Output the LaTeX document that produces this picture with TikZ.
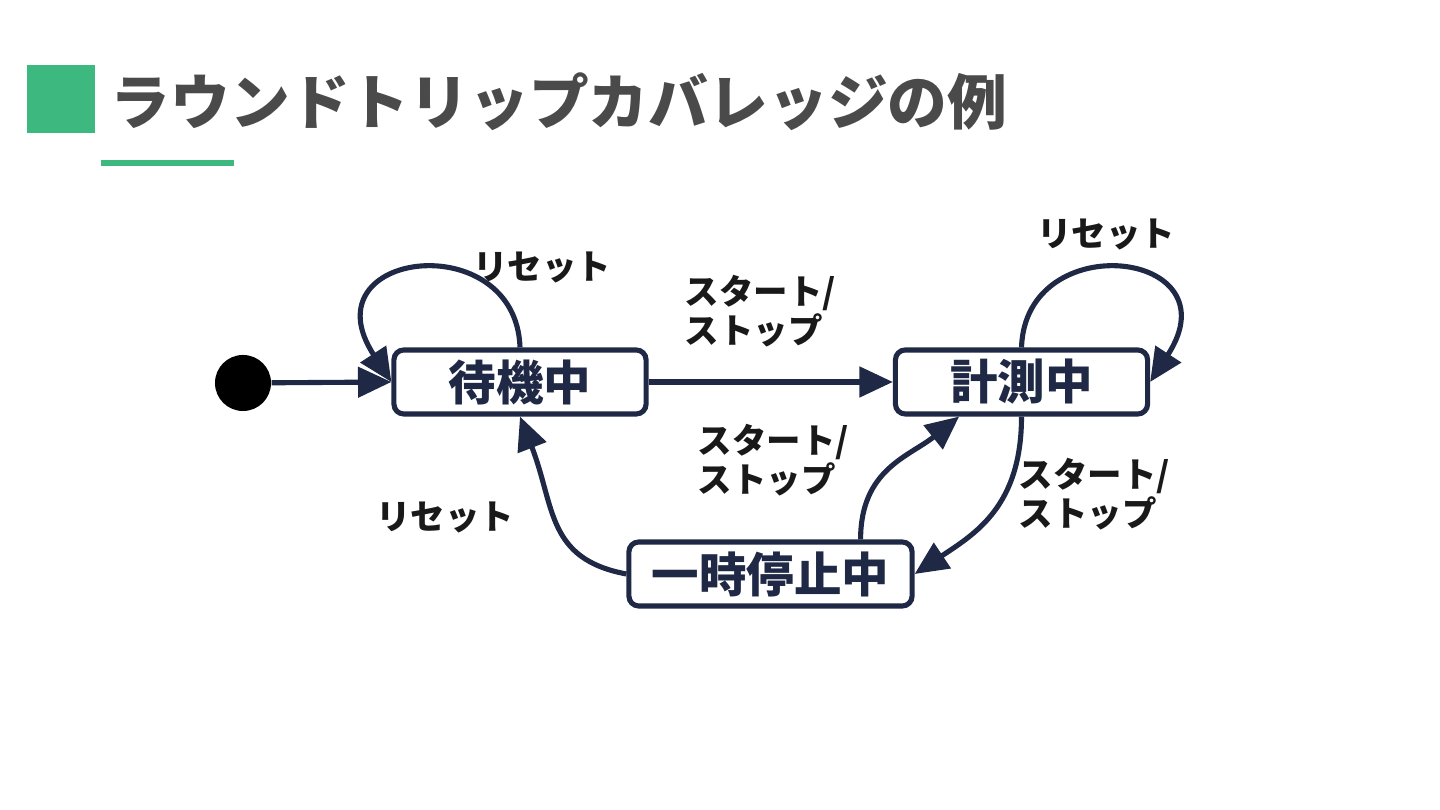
\documentclass[tikz,border=0pt]{standalone}
\usepackage{fontspec}
\newfontfamily\jpfont{Noto Sans CJK JP}
\usepackage{xcolor}
\usetikzlibrary{arrows.meta}
\definecolor{navy}{HTML}{1F2945}
\definecolor{accent}{HTML}{3DB87E}
\definecolor{titlegray}{HTML}{4A4A4A}

\begin{document}
\begin{tikzpicture}[x=0.01cm, y=0.01cm,
  state/.style={draw=navy, line width=1.45pt, rounded corners=2.8pt, fill=white,
    minimum width=2.52cm, minimum height=0.64cm, inner sep=0pt, text=navy,
    font=\jpfont\bfseries\fontsize{13.5pt}{16pt}\selectfont},
  edgelabel/.style={inner sep=0pt, align=left, text=black!90,
    font=\jpfont\bfseries\fontsize{9.8pt}{11.2pt}\selectfont},
  trans/.style={draw=navy, line width=1.45pt, -{Triangle[length=9.5pt,width=8.5pt]}}]
\useasboundingbox (0,0) rectangle (1440,810);

% title
\fill[accent] (27,677) rectangle (95,745);
\node[anchor=west, inner sep=0pt, text=titlegray,
  font=\jpfont\bfseries\fontsize{17pt}{20pt}\selectfont] (title) at (110,708)
  {ラウンドトリップカバレッジの例};
\draw[accent, line width=1.45pt] (101,647) -- (234,647);

% states
\node[circle, fill=black, minimum size=0.56cm, inner sep=0pt] (init) at (243,427) {};
\node[state] (wait) at (520,428) {待機中};
\node[state] (meas) at (1021.5,428) {計測中};
\node[state, minimum width=2.83cm] (pause) at (770.5,236) {一時停止中};

% transitions
\draw[trans] (init) -- (wait.west);
\draw[trans] (wait.north) .. controls +(-4,122) and +(-86,132) .. (wait.west);
\draw[trans] (wait.east) -- (meas.west);
\draw[trans] (meas.north) .. controls +(4,122) and +(86,132) .. (meas.east);
\draw[trans] (meas.south) .. controls +(0,-90) and +(60,40) .. (pause.east);
\draw[trans] (pause.21.5) .. controls +(0,70) and +(-50,-40) .. (meas.-151);
\draw[trans] (pause.west) .. controls +(-80,15) and +(35,-90) .. (wait.south);

% labels
\node[edgelabel] (resetwait) at (542,542) {リセット};
\node[edgelabel] (resetmeas) at (1106,575) {リセット};
\node[edgelabel, anchor=west] (toggleA) at (684,499) {スタート/\\ストップ};
\node[edgelabel, anchor=west] (toggleB) at (697,350) {スタート/\\ストップ};
\node[edgelabel, anchor=west] (toggleC) at (1018,316) {スタート/\\ストップ};
\node[edgelabel] (resetpause) at (445,293) {リセット};
\end{tikzpicture}
\end{document}
